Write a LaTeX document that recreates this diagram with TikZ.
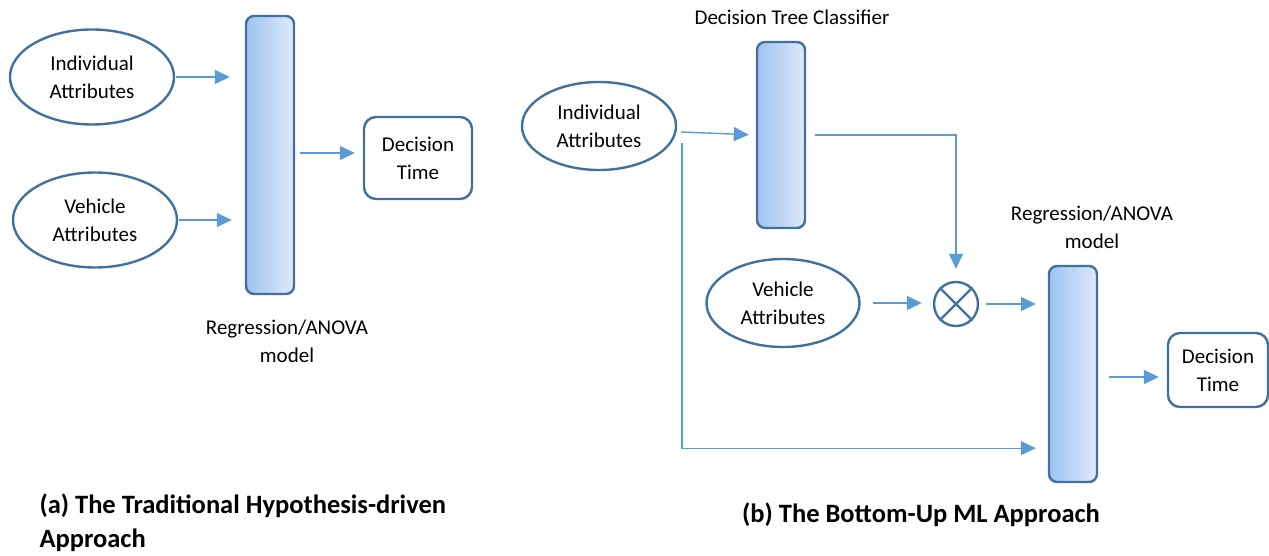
\documentclass[tikz,border=0pt]{standalone}
\usepackage{fontspec}
\setmainfont{Carlito}
\usepackage{tikz}
\usetikzlibrary{shapes.geometric,arrows.meta}

\definecolor{outl}{RGB}{65,113,156}
\definecolor{flowc}{RGB}{91,155,213}
\definecolor{barl}{RGB}{157,195,240}
\definecolor{barr}{RGB}{222,234,250}

\tikzset{
  attr/.style={draw=outl, line width=2.4pt, ellipse, align=center, font=\fontsize{21}{28}\selectfont},
  modelbar/.style={draw=outl, line width=2.4pt, rounded corners=8pt, left color=barl, right color=barr, minimum width=48pt},
  outbox/.style={draw=outl, line width=2.4pt, rounded corners=12pt, align=center, font=\fontsize{21}{28}\selectfont},
  flow/.style={draw=flowc, line width=1.4pt, -{Triangle[length=15pt,width=14pt]}},
  lbl/.style={align=center, font=\fontsize{21}{28}\selectfont},
  capt/.style={align=left, font=\fontsize{26.5}{34}\selectfont\bfseries}
}

\begin{document}
\begin{tikzpicture}[x=1pt, y=-1pt]
\useasboundingbox (0,0) rectangle (1269,556);

\node[attr, minimum width=164pt, minimum height=95pt] (indA) at (92,77) {Individual\\Attributes};
\node[attr, minimum width=164pt, minimum height=95pt] (vehA) at (95,220) {Vehicle\\Attributes};
\node[modelbar, minimum height=278pt] (regA) at (270,155) {};
\node[outbox, minimum width=108pt, minimum height=82pt] (decA) at (418,158) {Decision\\Time};
\node[lbl] (regAlbl) at (287,341) {Regression/ANOVA\\model};

\draw[flow, shorten <=1pt, shorten >=15pt] (indA.east) -- (indA.east -| regA.west);
\draw[flow, shorten <=1pt, shorten >=13pt] (vehA.east) -- (vehA.east -| regA.west);
\draw[flow, shorten <=5pt, shorten >=8pt] ([yshift=5pt]decA.west -| regA.east) -- ([yshift=5pt]decA.west);

\node[attr, minimum width=154pt, minimum height=88pt] (indB) at (599,126) {Individual\\Attributes};
\node[lbl] (dtlbl) at (792,17) {Decision Tree Classifier};
\node[modelbar, minimum height=186pt] (dtB) at (781,135) {};
\node[attr, minimum width=153pt, minimum height=88pt] (vehB) at (783,303) {Vehicle\\Attributes};
\node[draw=outl, line width=2.4pt, circle, minimum size=44pt] (mult) at (956,304) {};
\draw[outl, line width=2.4pt] (mult.45) -- (mult.225) (mult.135) -- (mult.-45);
\node[lbl] (regBlbl) at (1092,227) {Regression/ANOVA\\model};
\node[modelbar, minimum height=216pt] (regB) at (1073,374) {};
\node[outbox, minimum width=100pt, minimum height=74pt] (decB) at (1218,370) {Decision\\Time};
\coordinate (split) at (682,143);

\draw[flow, shorten >=7pt] ([shift={(4,6)}]indB.east) -- (dtB.west);
\draw[flow, shorten <=9pt, shorten >=12pt] (dtB.east) -| (mult.north);
\draw[flow, shorten <=12pt, shorten >=11pt] (vehB.east) -- (vehB.east -| mult.west);
\draw[flow, shorten <=7pt, shorten >=12pt] (mult.east) -- (mult.east -| regB.west);
\draw[flow, shorten >=12pt] (split) |- ([yshift=35pt]regB.south west);
\draw[flow, shorten <=11pt, shorten >=8pt] ([yshift=-3pt]regB.east) -- ([yshift=-3pt]regB.east -| decB.west);

\node[capt, anchor=west] (captA) at (36,523) {(a) The Traditional Hypothesis-driven\\Approach};
\node[capt] (captB) at (921,515) {(b) The Bottom-Up ML Approach};
\end{tikzpicture}
\end{document}
